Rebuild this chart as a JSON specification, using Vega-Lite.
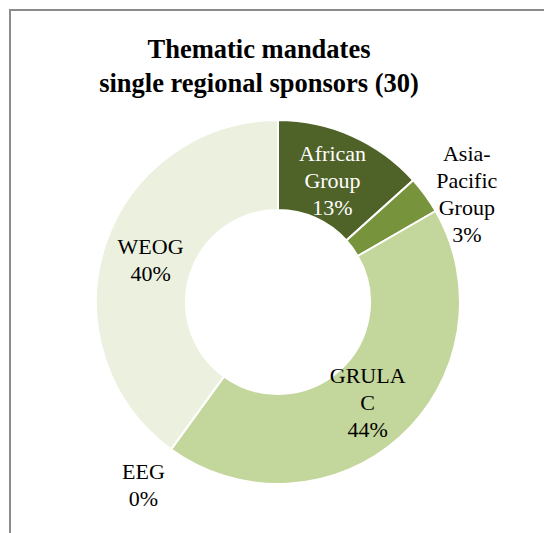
{
  "$schema": "https://vega.github.io/schema/vega-lite/v6.json",
  "autosize": "none",
  "width": 536,
  "height": 584,
  "padding": {"left": 10, "top": 10, "right": -2, "bottom": -61},
  "background": "white",
  "view": {"stroke": "#8c8c8c", "strokeWidth": 2, "fill": "white"},
  "config": {
    "view": {"stroke": "#8c8c8c", "strokeWidth": 2},
    "font": "Liberation Serif"
  },
  "title": {
    "text": ["Thematic mandates", "single regional sponsors (30)"],
    "font": "Liberation Serif, Times New Roman, serif",
    "fontSize": 26.5,
    "fontWeight": "bold",
    "color": "black",
    "lineHeight": 34,
    "offset": -87,
    "dx": -19,
    "anchor": "middle"
  },
  "data": {
    "values": [
      {"idx": 1, "region": "African Group", "count": 4, "label": "African\nGroup\n13%"},
      {"idx": 2, "region": "Asia-Pacific Group", "count": 1, "label": "Asia-\nPacific\nGroup\n3%"},
      {"idx": 3, "region": "GRULAC", "count": 13, "label": "GRULA\nC\n44%"},
      {"idx": 4, "region": "EEG", "count": 0, "label": "EEG\n0%"},
      {"idx": 5, "region": "WEOG", "count": 12, "label": "WEOG\n40%"}
    ]
  },
  "encoding": {
    "theta": {"field": "count", "type": "quantitative", "stack": true},
    "order": {"field": "idx", "type": "quantitative"}
  },
  "layer": [
    {
      "mark": {"type": "arc", "outerRadius": 182, "innerRadius": 92, "stroke": "white", "strokeWidth": 2},
      "encoding": {
        "color": {
          "field": "region",
          "type": "nominal",
          "legend": null,
          "sort": ["African Group", "Asia-Pacific Group", "GRULAC", "EEG", "WEOG"],
          "scale": {
            "domain": ["African Group", "Asia-Pacific Group", "GRULAC", "EEG", "WEOG"],
            "range": ["#4F6228", "#77933C", "#C3D69B", "#D7E4BD", "#EBF1DE"]
          }
        }
      }
    },
    {
      "mark": {"type": "text", "radius": 134, "dy": -26, "fontSize": 22, "lineHeight": 27, "lineBreak": "\n", "baseline": "middle", "align": "center", "font": "Liberation Serif"},
      "encoding": {
        "detail": {"field": "region", "type": "nominal"},
        "text": {"condition": {"test": "datum.region === 'African Group' || datum.region === 'GRULAC'", "field": "label"}, "value": ""},
        "color": {"condition": {"test": "datum.region === 'African Group'", "value": "white"}, "value": "black"}
      }
    },
    {
      "mark": {"type": "text", "radius": 134, "dy": -14, "fontSize": 22, "lineHeight": 27, "lineBreak": "\n", "baseline": "middle", "align": "center", "font": "Liberation Serif", "color": "black"},
      "encoding": {
        "detail": {"field": "region", "type": "nominal"},
        "text": {"condition": {"test": "datum.region === 'WEOG'", "field": "label"}, "value": ""}
      }
    },
    {
      "mark": {"type": "text", "radius": 229, "dy": -15, "fontSize": 22, "lineHeight": 27, "lineBreak": "\n", "baseline": "middle", "align": "center", "font": "Liberation Serif", "color": "black"},
      "encoding": {
        "detail": {"field": "region", "type": "nominal"},
        "text": {"condition": {"test": "datum.region === 'EEG'", "field": "label"}, "value": ""}
      }
    },
    {
      "mark": {"type": "text", "radius": 221, "dx": 10, "dy": -18, "fontSize": 22, "lineHeight": 27, "lineBreak": "\n", "baseline": "middle", "align": "center", "font": "Liberation Serif", "color": "black"},
      "encoding": {
        "detail": {"field": "region", "type": "nominal"},
        "text": {"condition": {"test": "datum.region === 'Asia-Pacific Group'", "field": "label"}, "value": ""}
      }
    }
  ]
}
